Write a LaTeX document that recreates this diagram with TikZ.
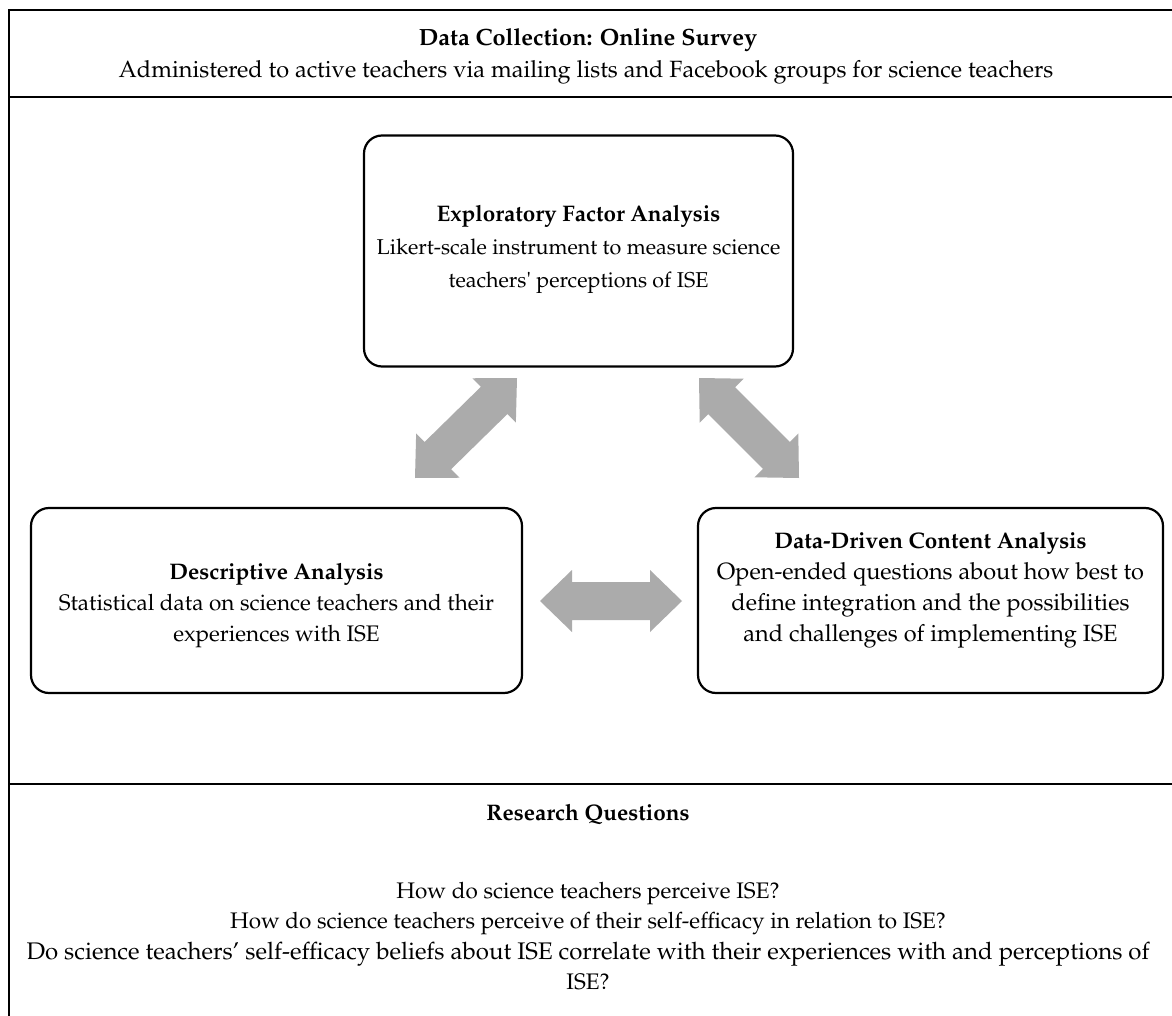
\documentclass[tikz,border=0pt]{standalone}
\usepackage[T1]{fontenc}
\usepackage{mathpazo}
\usetikzlibrary{calc}
\definecolor{arrowgray}{HTML}{ABABAB}
\tikzset{
  frameline/.style={line width=2.6pt, black},
  roundbox/.style={draw, line width=2.2pt, rounded corners=18pt, inner sep=0pt},
  arrowfill/.style={fill=arrowgray},
  txt/.style={align=center, inner sep=0pt}
}
\newcommand{\blockarrow}[2]{%
  \fill[arrowfill] (#1)
   -- ($(#1)!32pt!(#2)!31pt!90:(#2)$)
   -- ($(#1)!32pt!(#2)!19pt!90:(#2)$)
   -- ($(#2)!32pt!(#1)!19pt!-90:(#1)$)
   -- ($(#2)!32pt!(#1)!31pt!-90:(#1)$)
   -- (#2)
   -- ($(#2)!32pt!(#1)!31pt!90:(#1)$)
   -- ($(#2)!32pt!(#1)!19pt!90:(#1)$)
   -- ($(#1)!32pt!(#2)!19pt!-90:(#2)$)
   -- ($(#1)!32pt!(#2)!31pt!-90:(#2)$)
   -- cycle;}
\begin{document}
\begin{tikzpicture}[x=1pt, y=-1pt, font=\fontsize{22.5}{31}\selectfont]
\useasboundingbox (0,0) rectangle (1172,1016);
\clip (0,0) rectangle (1172,1016);
\fill[white] (0,0) rectangle (1172,1016);
% frame
\draw[frameline] (1185,10) -- (9,10) -- (9,1030);
\draw[frameline] (9,97) -- (1185,97);
\draw[frameline] (9,784) -- (1185,784);
% header
\node[txt, font=\fontsize{23.5}{31}\selectfont\bfseries] (hdr) at (588,40) {Data Collection: Online Survey};
\node[txt, font=\fontsize{23.5}{31}\selectfont] (hdrsub) at (586,72) {Administered to active teachers via mailing lists and Facebook groups for science teachers};
% boxes
\node[roundbox, minimum width=429pt, minimum height=231pt] (efa) at (578.5,251) {};
\node[txt, font=\fontsize{21.5}{33}\selectfont] (efatxt) at ([yshift=2pt]efa.center)
  {{\fontsize{22.5}{33}\selectfont\bfseries Exploratory Factor Analysis}\\
   Likert-scale instrument to measure science\\
   teachers\textquotesingle{} perceptions of ISE};
\node[roundbox, minimum width=491pt, minimum height=185pt] (desc) at (276.5,600.5) {};
\node[txt] (desctxt) at ([yshift=-5pt]desc.center)
  {{\bfseries Descriptive Analysis}\\
   Statistical data on science teachers and their\\
   experiences with ISE};
\node[roundbox, minimum width=465pt, minimum height=185pt] (ddca) at (930.5,600.5) {};
\node[txt, font=\fontsize{23.5}{31}\selectfont] (ddcatxt) at ([yshift=10pt]ddca.center)
  {{\fontsize{22.5}{31}\selectfont\bfseries Data-Driven Content Analysis}\\
   Open-ended questions about how best to\\
   define integration and the possibilities\\
   and challenges of implementing ISE};
% arrow end points
\coordinate (a1s) at (415,478);
\coordinate (a1e) at (517,378);
\coordinate (a2s) at (699,378);
\coordinate (a2e) at (799,478);
\coordinate (a3s) at (540,601);
\coordinate (a3e) at (682,601);
\blockarrow{a1s}{a1e}
\blockarrow{a2s}{a2e}
\blockarrow{a3s}{a3e}
% research questions
\node[txt, font=\fontsize{22.5}{31}\selectfont\bfseries] (rq) at (588,815) {Research Questions};
\node[txt, font=\fontsize{22.5}{30.5}\selectfont] (rqs) at (588,936)
  {How do science teachers perceive ISE?\\
   How do science teachers perceive of their self-efficacy in relation to ISE?\\
   {\fontsize{24}{30.5}\selectfont Do science teachers' self-efficacy beliefs about ISE correlate with their experiences with and perceptions of}\\
   ISE?};
\end{tikzpicture}
\end{document}
